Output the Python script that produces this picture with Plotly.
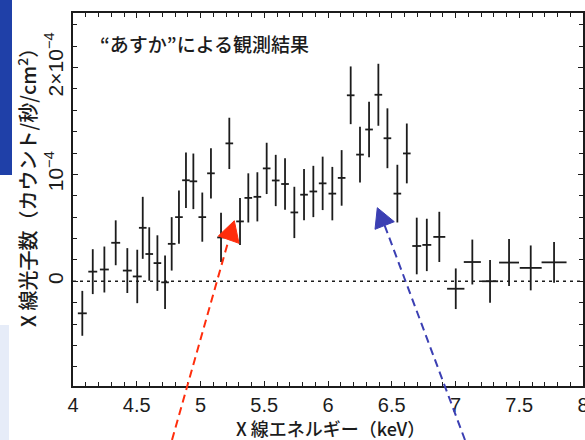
import plotly.graph_objects as go

# ---- data (energy in keV, counts in units of 1e-4 counts/s/cm2) ----
energy = [4.073, 4.155, 4.246, 4.335, 4.426, 4.504, 4.547, 4.598, 4.662, 4.722,
          4.774, 4.831, 4.886, 4.944, 5.014, 5.082, 5.161, 5.226, 5.310, 5.375,
          5.446, 5.519, 5.590, 5.663, 5.736, 5.812, 5.885, 5.958, 6.034, 6.107,
          6.178, 6.251, 6.322, 6.395, 6.466, 6.544, 6.618, 6.696, 6.775, 6.873,
          7.002, 7.132, 7.271, 7.420, 7.590, 7.773]
counts = [-0.30, 0.09, 0.11, 0.36, 0.10, 0.045, 0.50, 0.255, 0.17, -0.01,
          0.35, 0.60, 0.945, 0.935, 0.60, 1.01, 0.41, 1.29, 0.56, 0.78,
          0.79, 1.056, 0.943, 0.91, 0.644, 0.81, 0.84, 0.916, 0.82, 0.967,
          1.74, 1.185, 1.42, 1.745, 1.338, 0.82, 1.196, 0.33, 0.34, 0.415,
          -0.07, 0.18, 0.0, 0.175, 0.125, 0.177]
count_err = [0.21, 0.21, 0.215, 0.21, 0.21, 0.25, 0.29, 0.25, 0.26, 0.25,
             0.25, 0.25, 0.26, 0.26, 0.23, 0.235, 0.23, 0.24, 0.22, 0.23,
             0.23, 0.24, 0.24, 0.24, 0.24, 0.24, 0.24, 0.25, 0.25, 0.26,
             0.27, 0.26, 0.26, 0.29, 0.28, 0.27, 0.28, 0.265, 0.245, 0.235,
             0.19, 0.21, 0.20, 0.22, 0.21, 0.19]
energy_halfwidth = [0.035, 0.035, 0.035, 0.035, 0.035, 0.035, 0.03, 0.03, 0.03, 0.03,
                    0.03, 0.03, 0.03, 0.03, 0.03, 0.03, 0.03, 0.03, 0.03, 0.03,
                    0.03, 0.03, 0.03, 0.03, 0.03, 0.03, 0.03, 0.03, 0.03, 0.03,
                    0.03, 0.03, 0.03, 0.03, 0.03, 0.03, 0.03, 0.035, 0.035, 0.047,
                    0.068, 0.067, 0.063, 0.078, 0.086, 0.098]

y_tick_vals = [0, 1, 2]
y_tick_text = ["0", "10<sup>−4</sup>", "2×10<sup>−4</sup>"]

FONT = "Noto Sans CJK JP, Noto Sans, sans-serif"
NUMFONT = "Liberation Sans, Arial, sans-serif"
INK = "#1c1c1c"

# plot area in pixels (for paper-coordinate decorations)
L, R, T, B = 73, 2, 13, 54
W, H = 585, 440
PW, PH = W - L - R, H - T - B


def px(x):
    return (x - L) / PW


def py(y):
    return (H - B - y) / PH


fig = go.Figure()
fig.add_trace(go.Scatter(
    x=energy, y=counts, mode="markers",
    marker=dict(size=2, color=INK, opacity=0),
    error_y=dict(type="data", array=count_err, color=INK, thickness=1.8, width=0),
    error_x=dict(type="data", array=energy_halfwidth, color=INK, thickness=1.8, width=0),
    showlegend=False, hoverinfo="skip",
))
# invisible trace on the mirrored (top/right) axes so their ticks are drawn
fig.add_trace(go.Scatter(x=[4], y=[0], xaxis="x2", yaxis="y2", mode="markers",
                         marker=dict(opacity=0), showlegend=False, hoverinfo="skip"))

shapes = []
# zero dashed line
shapes.append(dict(type="line", xref="x", yref="y", x0=4, x1=8, y0=0, y1=0,
                   line=dict(color=INK, width=1.5, dash="3px,4px")))
# blue slide strip at left and pale area
shapes.append(dict(type="rect", xref="paper", yref="paper", layer="below",
                   x0=px(0), x1=px(12), y0=py(175), y1=py(0),
                   fillcolor="#1f40a8", line=dict(width=0)))
shapes.append(dict(type="rect", xref="paper", yref="paper", layer="below",
                   x0=px(0), x1=px(9), y0=py(440), y1=py(325),
                   fillcolor="#e6ecf8", line=dict(width=0)))


def arrow(start, base_mid, tri, color):
    shapes.append(dict(type="line", xref="paper", yref="paper", layer="above",
                       x0=px(start[0]), y0=py(start[1]),
                       x1=px(base_mid[0]), y1=py(base_mid[1]),
                       line=dict(color=color, width=2, dash="8px,5px")))
    path = "M {} {} L {} {} L {} {} Z".format(
        px(tri[0][0]), py(tri[0][1]), px(tri[1][0]), py(tri[1][1]),
        px(tri[2][0]), py(tri[2][1]))
    shapes.append(dict(type="path", xref="paper", yref="paper", layer="above",
                       path=path, fillcolor=color, line=dict(color=color, width=1)))


arrow((172, 440), (228.7, 239.7), [(234.3, 220.7), (218.3, 236), (239, 243.3)], "#ff2d0c")
arrow((465, 440), (384.7, 225.5), [(377.3, 207.7), (375, 229.3), (394.3, 221.7)], "#3b3fb3")

annotations = [
    dict(text="“あすか”による観測結果", xref="paper", yref="paper",
         x=px(98), y=py(43), xanchor="left", yanchor="middle", showarrow=False,
         font=dict(family=FONT, size=19, color=INK, weight=500)),
    dict(text="X 線光子数（カウント/秒/cm<sup>2</sup>）", xref="paper", yref="paper",
         x=px(27), y=py(183), xanchor="center", yanchor="middle", textangle=-90,
         showarrow=False, font=dict(family=FONT, size=20, color=INK, weight=500)),
    dict(text="X 線エネルギー（keV）", xref="paper", yref="paper",
         x=px(330), y=py(428), xanchor="center", yanchor="middle",
         showarrow=False, font=dict(family=FONT, size=18, color=INK, weight=500)),
]

tick_common = dict(ticks="inside", ticklen=5, tickwidth=1.2, tickcolor=INK,
                   showgrid=False, zeroline=False)

fig.update_layout(
    width=W, height=H,
    margin=dict(l=L, r=R, t=T, b=B, autoexpand=False),
    paper_bgcolor="white", plot_bgcolor="white",
    font=dict(family=FONT, size=18, color=INK),
    shapes=shapes, annotations=annotations,
    xaxis=dict(range=[4, 8], tick0=4, dtick=0.5, showline=True, linecolor=INK,
               linewidth=1.6, mirror=True, ticklabeloverflow="allow",
               tickfont=dict(family=NUMFONT, size=20),
               minor=dict(ticks="inside", dtick=0.1, ticklen=4, tickcolor=INK,
                          tickwidth=1, showgrid=False),
               **tick_common),
    xaxis2=dict(range=[4, 8], tick0=4, dtick=0.5, overlaying="x", side="top",
                showticklabels=False, showline=False,
                minor=dict(ticks="inside", dtick=0.1, ticklen=4, tickcolor=INK,
                           tickwidth=1, showgrid=False),
                **tick_common),
    yaxis=dict(range=[-0.98, 2.51], tickmode="array", tickvals=y_tick_vals,
               ticktext=y_tick_text, tickangle=-90, showline=True, linecolor=INK,
               linewidth=1.6, mirror=True,
               tickfont=dict(family=NUMFONT, size=21),
               minor=dict(ticks="inside", tickmode="linear", tick0=0, dtick=0.2,
                          ticklen=4, tickcolor=INK, tickwidth=1, showgrid=False),
               **tick_common),
    yaxis2=dict(range=[-0.98, 2.51], tickmode="array", tickvals=y_tick_vals,
                overlaying="y", side="right", showticklabels=False, showline=False,
                minor=dict(ticks="inside", tickmode="linear", tick0=0, dtick=0.2,
                           ticklen=4, tickcolor=INK, tickwidth=1, showgrid=False),
                **tick_common),
)

fig.write_html("out.html")
